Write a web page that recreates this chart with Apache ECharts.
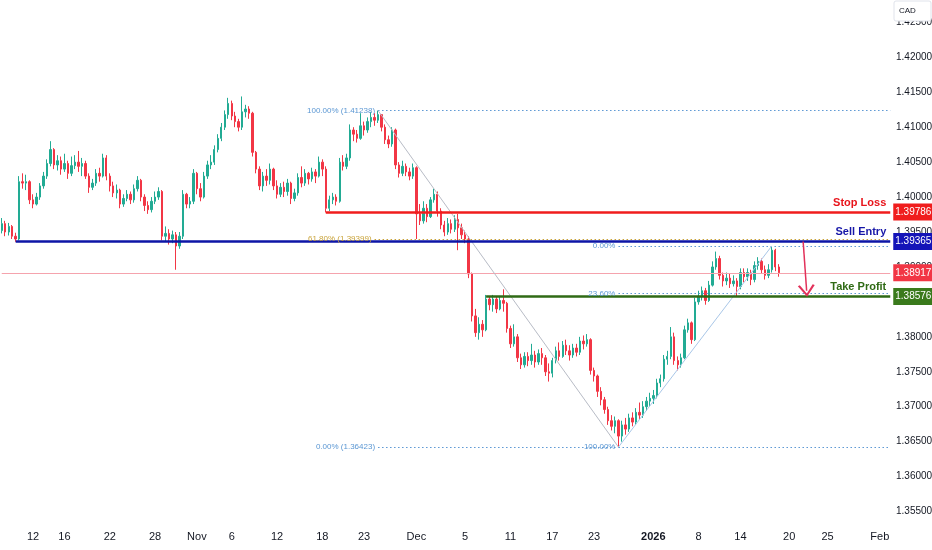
<!DOCTYPE html>
<html>
<head>
<meta charset="utf-8">
<title>USD/CAD 4H</title>
<script src="https://cdn.jsdelivr.net/npm/echarts@6/dist/echarts.min.js"></script>
<style>
html, body { margin: 0; padding: 0; background: #fff; }
#chart { width: 932px; height: 550px; }
</style>
</head>
<body>
<div id="chart"></div>
<script>
"use strict";

/***** Data start *****/
// prices are pips above 1.3000 (952 = 1.3952); each candle opens at the previous close
var firstOpen = 952;
var closes = [
	962,950,958,944,940,1022,1020,1022,996,990,
	1000,1016,1030,1048,1068,1046,1052,1040,1048,1034,
	1045,1050,1044,1048,1030,1014,1020,1034,1030,1056,
	1030,1016,1006,1010,990,998,1004,996,1012,1024,
	1000,988,982,994,1000,1008,944,948,940,946,
	930,944,1004,990,994,1034,1012,1000,1030,1046,
	1050,1068,1084,1100,1118,1134,1116,1108,1100,1122,
	1126,1120,1064,1040,1016,1030,1024,1040,1016,1004,
	1014,1008,1020,998,1006,1028,1020,1034,1026,1036,
	1030,1050,1040,984,996,1000,994,1050,1044,1056,
	1096,1090,1084,1102,1096,1108,1114,1110,1118,1100,
	1082,1076,1096,1046,1034,1044,1036,1030,1042,976,
	966,984,972,996,1004,980,960,950,962,954,
	968,956,946,940,890,830,806,818,810,854,
	846,854,840,852,848,812,790,800,770,760,
	772,766,774,764,776,770,750,748,766,780,
	772,788,780,774,784,778,794,790,796,752,
	744,722,710,696,680,672,680,658,674,668,
	684,678,692,688,700,708,712,716,734,740,
	768,772,800,766,760,770,810,820,796,850,
	858,866,852,874,900,912,888,880,884,876,
	880,872,892,886,892,882,902,908,896,888,
	896,924,900,891.7
];
var highs = [
	970,966,963,960,949,1030,1034,1032,1024,1004,
	1006,1020,1036,1054,1080,1070,1060,1058,1062,1052,
	1058,1060,1066,1056,1052,1034,1026,1040,1042,1062,
	1060,1034,1022,1018,1012,1004,1010,1008,1018,1030,
	1026,1004,994,1000,1008,1014,1010,958,954,952,
	950,950,1010,1006,1000,1040,1036,1020,1036,1052,
	1060,1074,1090,1106,1124,1142,1138,1122,1112,1144,
	1132,1130,1122,1066,1044,1036,1040,1048,1042,1024,
	1020,1022,1026,1022,1012,1034,1044,1040,1036,1042,
	1040,1058,1054,1044,1002,1006,1004,1056,1060,1062,
	1104,1100,1096,1120,1108,1114,1122,1120,1123.8,1118,
	1104,1088,1100,1098,1050,1052,1048,1042,1048,1044,
	990,994,990,1000,1012,1008,984,966,970,968,
	974,976,962,952,944,892,840,828,824,860,
	858,860,858,858,868,850,816,818,804,776,
	778,778,790,780,782,784,774,762,770,786,
	792,794,796,788,790,790,800,802,804,798,
	756,746,728,714,700,688,686,682,680,684,
	690,692,698,706,708,714,720,724,740,746,
	774,780,814,806,772,776,816,826,822,856,
	866,872,870,880,908,922,916,892,892,890,
	888,884,898,898,898,896,908,914,912,902,
	904,930,926,904
];
var lows = [
	948,944,945,940,936,938,1012,1010,990,984,
	988,996,1012,1026,1044,1040,1038,1032,1036,1026,
	1030,1040,1036,1030,1026,1006,1010,1016,1022,1028,
	1024,1008,1000,998,984,986,994,990,992,1008,
	994,980,976,978,990,996,938,936,932,934,
	896,926,940,984,984,990,1004,994,998,1026,
	1040,1046,1064,1080,1096,1112,1110,1100,1094,1096,
	1114,1112,1058,1034,1010,1008,1016,1018,1010,998,
	1000,1000,1002,990,994,1002,1014,1016,1018,1022,
	1020,1028,1030,978,980,990,988,992,1038,1040,
	1052,1080,1078,1082,1088,1092,1100,1102,1106,1094,
	1076,1070,1072,1040,1028,1030,1030,1024,1026,940,
	960,962,964,970,992,972,954,944,946,948,
	950,924,940,934,884,822,800,796,800,808,
	838,836,834,838,836,806,784,786,764,754,
	756,758,760,756,760,760,744,736,742,762,
	766,770,774,766,770,772,774,782,786,746,
	736,714,702,690,674,666,662,642.3,650,660,
	664,672,674,682,684,694,700,704,712,728,
	736,760,768,760,752,756,768,806,790,794,
	846,852,846,850,872,896,882,872,874,870,
	872,858,868,878,880,874,878,896,890,882,
	884,892,894,886
];

// time axis: one slot per candle, the empty slots on the right are future space
var slotCount = 256;
var tickSlots = [9, 18, 31, 44, 56, 66, 79, 92, 104, 119, 133, 146, 158, 170, 187, 200, 212, 226, 237, 252];
var tickTexts = ['12', '16', '22', '28', 'Nov', '6', '12', '18', '23', 'Dec', '5', '11', '17', '23', '2026', '8', '14', '20', '25', 'Feb'];

// trade levels
var stopLoss = 1.39786;
var sellEntry = 1.39365;
var takeProfit = 1.38576;
var lastPrice = 1.38917;

// fibonacci swings [slot, price]
var swingHigh = [108, 1.41238];
var swingLow = [177, 1.36423];
var recentHigh = [221, 1.39300];

// projected move [slot, price]
var moveFrom = [230, 1.39365];
var moveTo = [231, 1.38660];
/***** Data end *****/

var FONT = "'Liberation Sans', Arial, sans-serif";
var FIB_BLUE = '#5b97d3';
var lastSlot = slotCount - 1;

var px = function(v) { return 1.3 + v / 10000; };

var candles = closes.map(function(c, i) {
	var o = i === 0 ? firstOpen : closes[i - 1];
	var h = Math.max(highs[i], o, c);
	var l = Math.min(lows[i], o, c);
	return [px(o), px(c), px(l), px(h)];
});

var categories = [];
for (var s = 0; s < slotCount; s++) categories.push(String(s));

var noLabel = { show: false };

var hLine = function(from, to, value, lineStyle, label) {
	return [
		{ coord: [from, value], lineStyle: lineStyle, label: label || noLabel },
		{ coord: [to, value] }
	];
};

var boxLabel = function(value, bg) {
	return {
		show: true, position: 'end', distance: 3,
		formatter: value.toFixed(5),
		color: '#fff', backgroundColor: bg,
		padding: [4, 2, 3, 2], fontSize: 10, fontFamily: FONT
	};
};

// short invisible segment at the right edge that only carries the axis price tag
var priceBox = function(value, bg) {
	return hLine(lastSlot - 1, lastSlot, value,
		{ color: 'rgba(255,255,255,0)', width: 0.1, type: 'solid' }, boxLabel(value, bg));
};

var tagLabel = function(text, color) {
	return {
		show: true, position: 'insideEndTop', distance: 4,
		formatter: text, color: color, fontSize: 11,
		fontWeight: 'bold', fontFamily: FONT
	};
};

var fibLabel = function(text, color) {
	return {
		show: true, position: 'start', distance: 3,
		formatter: text, color: color || FIB_BLUE, fontSize: 8, fontFamily: FONT
	};
};

var dotted = function(color) {
	return { color: color || FIB_BLUE, width: 1, type: [1.5, 2.5] };
};

var fibA618 = swingLow[1] + 0.618 * (swingHigh[1] - swingLow[1]);
var fibB236 = recentHigh[1] - 0.236 * (recentHigh[1] - swingLow[1]);

var chevron = 'path://M0,10 L5,0 L10,10 L8.8,10.9 L5,3 L1.2,10.9 Z';

var markData = [
	// current price
	hLine(0, lastSlot, lastPrice, { color: '#f5a3ad', width: 1, type: 'solid' }, boxLabel(lastPrice, '#f23645')),
	// fib #1 (high -> low)
	hLine(swingHigh[0], lastSlot, swingHigh[1], dotted(),
		fibLabel('100.00% (' + swingHigh[1].toFixed(5) + ')')),
	hLine(swingHigh[0] - 1, lastSlot, fibA618, dotted('#c9a33a'),
		fibLabel('61.80% (' + fibA618.toFixed(5) + ')', '#c9a33a')),
	hLine(swingHigh[0], swingLow[0], swingLow[1], dotted(),
		fibLabel('0.00% (' + swingLow[1].toFixed(5) + ')')),
	[
		{ coord: swingHigh, lineStyle: { color: '#b8bcc6', width: 1, type: 'solid' }, label: noLabel },
		{ coord: swingLow }
	],
	// fib #2 (low -> recent high)
	hLine(swingLow[0], lastSlot, recentHigh[1], dotted(), fibLabel('0.00%')),
	hLine(swingLow[0], lastSlot, fibB236, dotted(), fibLabel('23.60%')),
	hLine(swingLow[0], lastSlot, swingLow[1], dotted(), fibLabel('100.00%')),
	[
		{ coord: swingLow, lineStyle: { color: '#a9c7e8', width: 1, type: 'solid' }, label: noLabel },
		{ coord: recentHigh }
	],
	// trade levels
	hLine(93, lastSlot, stopLoss, { color: '#f01d1d', width: 2.5, type: 'solid' },
		tagLabel('Stop Loss', '#e8141b')),
	hLine(4, lastSlot, sellEntry, { color: '#0d15a6', width: 2.5, type: 'solid' },
		tagLabel('Sell Entry', '#1616a8')),
	hLine(139, lastSlot, takeProfit, { color: '#2f6a15', width: 2.5, type: 'solid' },
		tagLabel('Take Profit', '#2f6a15')),
	// expected move
	[
		{ coord: moveFrom, symbol: 'none', lineStyle: { color: '#e2315a', width: 1.5, type: 'solid' }, label: noLabel },
		{ coord: moveTo, symbol: chevron, symbolSize: [17, 12] }
	],
	priceBox(stopLoss, '#f01d1d'),
	priceBox(sellEntry, '#1414b8'),
	priceBox(takeProfit, '#3a7a1c')
];

var chart = echarts.init(document.getElementById('chart'));

var option = {
	animation: false,
	backgroundColor: '#ffffff',
	grid: { left: 0, right: 40, top: 0, bottom: 3.5, containLabel: false, outerBoundsMode: 'none' },
	xAxis: {
		type: 'category',
		data: categories,
		boundaryGap: true,
		offset: -23,
		axisLine: { show: false },
		axisTick: { show: false },
		splitLine: { show: false },
		axisLabel: {
			color: '#131722',
			fontSize: 11,
			fontFamily: FONT,
			margin: 8,
			interval: function(i) { return tickSlots.indexOf(i) >= 0; },
			formatter: function(v, i) {
				var t = tickTexts[tickSlots.indexOf(i)] || '';
				return t === '2026' ? '{b|' + t + '}' : t;
			},
			rich: { b: { fontWeight: 'bold', fontSize: 11, fontFamily: FONT, color: '#131722' } }
		}
	},
	yAxis: {
		type: 'value',
		position: 'right',
		min: 1.35,
		max: 1.4282,
		interval: 0.005,
		axisLine: { show: false },
		axisTick: { show: false },
		splitLine: { show: false },
		axisLabel: {
			color: '#131722',
			fontSize: 10,
			fontFamily: FONT,
			margin: 4,
			showMinLabel: false,
			showMaxLabel: false,
			formatter: function(v) { return v.toFixed(5); }
		}
	},
	series: [{
		type: 'candlestick',
		data: candles,
		barWidth: '55%',
		clip: true,
		itemStyle: {
			color: '#22ab94',
			color0: '#f23645',
			borderColor: '#22ab94',
			borderColor0: '#f23645',
			borderWidth: 1
		},
		markLine: {
			silent: true,
			animation: false,
			precision: 5,
			symbol: ['none', 'none'],
			data: markData
		}
	}],
	graphic: [
		{
			type: 'rect', z: 100,
			shape: { x: 894, y: 1, width: 37, height: 20, r: 2 },
			style: { fill: '#ffffff', stroke: '#e0e3eb', lineWidth: 1 }
		},
		{
			type: 'text', z: 101, x: 899, y: 11,
			style: { text: 'CAD', fill: '#131722', fontSize: 8, fontFamily: FONT, verticalAlign: 'middle' }
		}
	]
};

chart.setOption(option);
chart.resize();
</script>
</body>
</html>
